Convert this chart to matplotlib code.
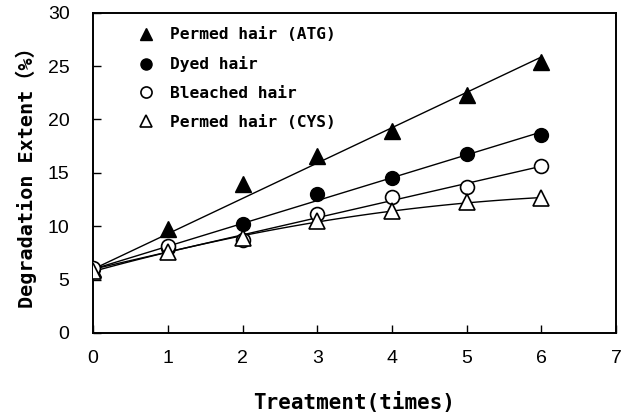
import numpy as np
import matplotlib
matplotlib.use("Agg")
import matplotlib.pyplot as plt

treat = [0, 1, 2, 3, 4, 5, 6]
atg = [6.0, 9.7, 14.0, 16.6, 18.9, 22.3, 25.4]
dyed = [6.0, 8.0, 10.2, 13.0, 14.5, 16.8, 18.5]
bleached = [6.1, 8.1, 8.7, 11.1, 12.7, 13.7, 15.6]
cys = [5.8, 7.6, 8.9, 10.5, 11.4, 12.3, 12.6]
labels = ["Permed hair (ATG)", "Dyed hair", "Bleached hair", "Permed hair (CYS)"]

MONO = ['DejaVu Sans Mono', 'Noto Sans CJK JP']

fig = plt.figure(figsize=(6.21, 4.13), dpi=100)
ax = fig.add_axes([0.150, 0.194, 0.842, 0.775])

x = np.array(treat, dtype=float)
xx = np.linspace(0, 6, 100)
y0 = np.mean([atg[0], dyed[0], bleached[0], cys[0]])
series = [
    (atg, dict(marker='^', mfc='black', mec='black', ms=11), 1),
    (dyed, dict(marker='o', mfc='black', mec='black', ms=10), 1),
    (bleached, dict(marker='o', mfc='white', mec='black', ms=10, mew=1.2), 1),
    (cys, dict(marker='^', mfc='white', mec='black', ms=11, mew=1.2), 2),
]
for (vals, st, deg), lab in zip(series, labels):
    v = np.array(vals)
    if deg == 1:
        # least squares slope through the common starting point
        slope = np.sum(x * (v - y0)) / np.sum(x * x)
        fit = y0 + slope * xx
    else:
        c = np.polyfit(x, v, deg)
        fit = np.polyval(c, xx)
    ax.plot(xx, fit, color='black', lw=1.0, zorder=2)
    ax.plot(x, vals, linestyle='none', label=lab, zorder=3, **st)

ax.set_xlim(0, 7)
ax.set_ylim(0, 30)
ax.set_xticks(range(0, 8))
ax.set_yticks(range(0, 31, 5))
ax.tick_params(direction='in', length=6, width=1, labelsize=14,
               top=False, right=False)
ax.tick_params(axis='y', pad=17)
ax.tick_params(axis='x', pad=12)
for lbl in ax.get_xticklabels() + ax.get_yticklabels():
    lbl.set_family('Liberation Sans')
for s in ax.spines.values():
    s.set_linewidth(1.4)

ax.set_xlabel("Treatment(times)", fontsize=15, fontweight='bold',
              family=MONO, labelpad=18)
ax.set_ylabel("Degradation Extent（%）", fontsize=14.5, fontweight='bold',
              family=MONO, labelpad=8)

leg = ax.legend(loc='upper left', frameon=False,
                prop={'family': MONO, 'weight': 'bold', 'size': 11.7},
                labelspacing=0.85, handletextpad=0.45, borderaxespad=0.5,
                bbox_to_anchor=(0.042, 1.0), markerscale=0.8)

fig.savefig("out.png", dpi=100)
